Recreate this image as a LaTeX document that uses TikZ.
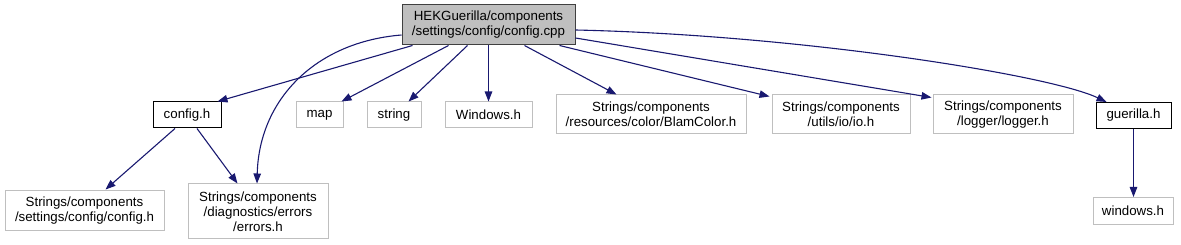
\documentclass[tikz,border=0pt]{standalone}
\usepackage{fontspec}
\setmainfont{Liberation Sans}
\usetikzlibrary{arrows.meta}
\definecolor{edgeblue}{HTML}{191970}
\definecolor{lightborder}{HTML}{BFBFBF}
\definecolor{darkborder}{HTML}{404040}
\definecolor{rootfill}{HTML}{BFBFBF}
\tikzset{
  filebox/.style={draw=lightborder, line width=1pt, fill=white, inner sep=0pt, align=center,
    font=\fontsize{13.3}{15}\selectfont},
  docbox/.style={filebox, draw=black},
  rootbox/.style={filebox, draw=darkborder, fill=rootfill},
  dep/.style={draw=edgeblue, line width=1.1pt, -{Triangle[length=10pt,width=7.5pt]}, color=edgeblue}
}
\begin{document}
\begin{tikzpicture}[x=1pt,y=-1pt]
\useasboundingbox (0,0) rectangle (1181,245);
\node[rootbox, minimum width=173pt, minimum height=40pt] (root) at (488.5,25) {HEKGuerilla/components\\/settings/config/config.cpp};
\node[docbox, minimum width=68pt, minimum height=26pt] (config) at (187,115) {config.h};
\node[filebox, minimum width=47pt, minimum height=26pt] (map) at (319.5,115) {map};
\node[filebox, minimum width=54pt, minimum height=26pt] (string) at (394,115) {string};
\node[filebox, minimum width=87pt, minimum height=26pt] (Windows) at (488.5,115) {Windows.h};
\node[filebox, minimum width=190pt, minimum height=39pt] (blam) at (651,114.5) {Strings/components\\/resources/color/BlamColor.h};
\node[filebox, minimum width=138pt, minimum height=39pt] (io) at (841,114.5) {Strings/components\\/utils/io/io.h};
\node[filebox, minimum width=140pt, minimum height=39pt] (logger) at (1003,114.5) {Strings/components\\/logger/logger.h};
\node[docbox, minimum width=75pt, minimum height=26pt] (guerilla) at (1133.5,115.5) {guerilla.h};
\node[filebox, minimum width=80pt, minimum height=27pt] (windows) at (1133,211) {windows.h};
\node[filebox, minimum width=159pt, minimum height=40pt] (sconfig) at (84.5,211) {Strings/components\\/settings/config/config.h};
\node[filebox, minimum width=140pt, minimum height=55pt] (errors) at (258,211.5) {Strings/components\\/diagnostics/errors\\/errors.h};

\draw[dep] ([xshift=11pt]root.south west) -- ([xshift=-4pt]config.north east);
\draw[dep] ([yshift=-10pt]root.west) .. controls (315,42) and (259,100) .. ([xshift=-1pt]errors.north);
\draw[dep] ([xshift=47pt]root.south west) -- ([xshift=-2pt]map.north east);
\draw[dep] ([xshift=66pt]root.south west) -- ([xshift=-13pt]string.north east);
\draw[dep] (root.south) -- (Windows.north);
\draw[dep] ([xshift=123pt]root.south west) -- ([xshift=61pt]blam.north west);
\draw[dep] ([xshift=158pt]root.south west) -- ([xshift=-2pt,yshift=-2pt]io.north west);
\draw[dep] ([yshift=-13pt]root.east) -- ([xshift=-1pt,yshift=-3pt]logger.north west);
\draw[dep] ([yshift=-5pt]root.east) .. controls (800,35) and (1050,75) .. ([xshift=11pt]guerilla.north west);
\draw[dep] ([xshift=-12pt]config.south) -- ([xshift=21pt,yshift=1pt]sconfig.north);
\draw[dep] ([xshift=10pt]config.south) -- ([xshift=50pt]errors.north west);
\draw[dep] (guerilla.south) -- (guerilla.south |- windows.north);
\end{tikzpicture}
\end{document}
